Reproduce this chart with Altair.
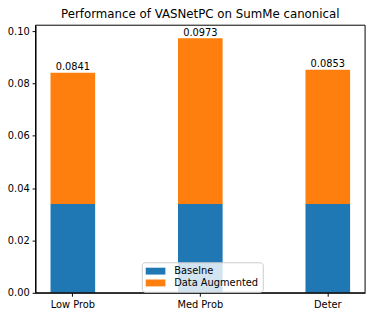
import altair as alt
import pandas as pd

categories = ["Low Prob", "Med Prob", "Deter"]
baseline = [0.0339, 0.0339, 0.0339]
augmented_total = [0.0841, 0.0973, 0.0853]
series_names = ["Baselne", "Data Augmented"]
colors = ["#1f77b4", "#ff7f0e"]

rows = []
for c, b, t in zip(categories, baseline, augmented_total):
    rows.append({"cat": c, "series": series_names[0], "y0": 0.0, "y1": b, "total": t})
    rows.append({"cat": c, "series": series_names[1], "y0": b, "y1": t, "total": t})
df = pd.DataFrame(rows)
lab = pd.DataFrame({"cat": categories, "total": augmented_total})

FONT = "DejaVu Sans"
W, H = 335, 272

xscale = alt.Scale(domain=categories, paddingInner=0.65, paddingOuter=0.1175)
yscale = alt.Scale(domain=[0, 0.1023], nice=False, zero=True)

bars = alt.Chart(df).mark_bar().encode(
    x=alt.X("cat:N", scale=xscale, sort=categories, title=None,
            axis=alt.Axis(labelAngle=0, tickSize=3.5, labelPadding=3, labelFontSize=10,
                          labelFont=FONT, labelColor="black", tickColor="black",
                          domainColor="black", grid=False)),
    y=alt.Y("y0:Q", scale=yscale, title=None,
            axis=alt.Axis(values=[0, 0.02, 0.04, 0.06, 0.08, 0.10], format=".2f",
                          tickSize=3.5, labelPadding=3, labelFontSize=10, labelFont=FONT,
                          labelColor="black", tickColor="black", domainColor="black",
                          grid=False)),
    y2="y1:Q",
    color=alt.Color("series:N", scale=alt.Scale(domain=series_names, range=colors),
                    legend=alt.Legend(title=None, orient="none", legendX=108, legendY=241,
                                      symbolType="M-2,-0.7H2V0.7H-2Z", symbolSize=100,
                                      symbolStrokeWidth=0, labelFontSize=10, labelFont=FONT,
                                      labelColor="black", fillColor="rgba(255,255,255,0.8)",
                                      strokeColor="#cccccc", cornerRadius=3, padding=4,
                                      rowPadding=2, labelOffset=14, symbolOffset=5)),
)

text = alt.Chart(lab).mark_text(baseline="bottom", dy=-0.5, fontSize=10, font=FONT,
                                color="black").encode(
    x=alt.X("cat:N", scale=xscale, sort=categories),
    y=alt.Y("total:Q", scale=yscale),
    text=alt.Text("total:Q", format=".4f"),
)

frame = alt.Chart(alt.Data(values=[{"f": 1}])).mark_rect(
    fill=None, stroke="black", strokeWidth=1
).encode(x=alt.value(0), x2=alt.value(W), y=alt.value(0), y2=alt.value(H))

chart = alt.layer(bars, text, frame).properties(
    width=W, height=H,
    title=alt.TitleParams("Performance of VASNetPC on SumMe canonical", fontSize=12,
                          font=FONT, fontWeight="normal", color="black", offset=4),
    autosize=alt.AutoSizeParams(type="none"),
    padding={"left": 28, "top": 15, "right": 5, "bottom": 14},
).configure(background="white").configure_view(stroke=None)

chart.save("out.html", embed_options={"renderer": "svg", "actions": False})
